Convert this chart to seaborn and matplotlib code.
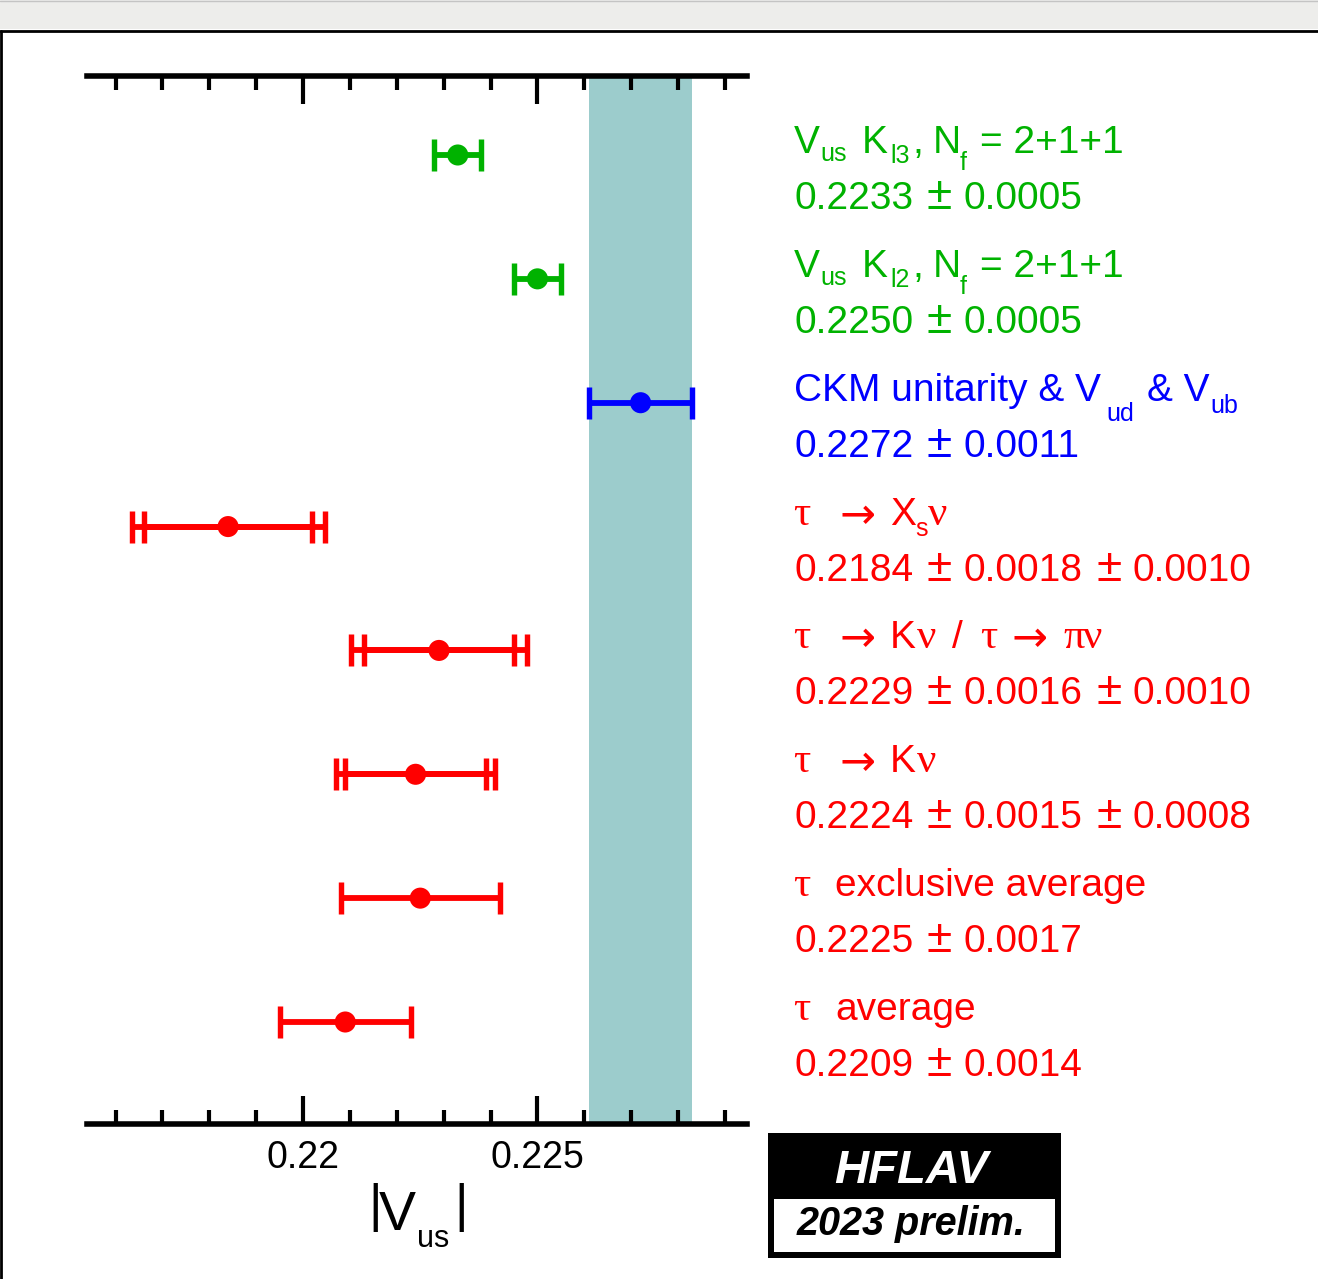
import numpy as np
import pandas as pd
import matplotlib
matplotlib.use("Agg")
import matplotlib.pyplot as plt
import matplotlib.transforms as mtransforms
from matplotlib.patches import Rectangle
from matplotlib.lines import Line2D
from matplotlib.ticker import MultipleLocator
import seaborn as sns

# ---------------- data ----------------
values = [0.2233, 0.2250, 0.2272, 0.2184, 0.2229, 0.2224, 0.2225, 0.2209]
stat_errors = [0.0005, 0.0005, 0.0011, 0.0018, 0.0016, 0.0015, 0.0017, 0.0014]
syst_errors = [0.0, 0.0, 0.0, 0.0010, 0.0010, 0.0008, 0.0, 0.0]
groups = ["lattice", "lattice", "unitarity", "tau", "tau", "tau", "tau", "tau"]
# first label line as (kind, text) tokens: n = normal, s = subscript, g = greek, a = arrow
label_tokens = [
    [("n", "V"), ("s", "us"), ("n", "K"), ("s", "l3"), ("n", ","), ("n", "N"), ("s", "f"), ("n", "= 2+1+1")],
    [("n", "V"), ("s", "us"), ("n", "K"), ("s", "l2"), ("n", ","), ("n", "N"), ("s", "f"), ("n", "= 2+1+1")],
    [("n", "CKM unitarity & V"), ("s", "ud"), ("n", "& V"), ("s", "ub")],
    [("g", "\u03c4"), ("a", "\u2192"), ("n", "X"), ("s", "s"), ("g", "\u03bd")],
    [("g", "\u03c4"), ("a", "\u2192"), ("n", "K"), ("g", "\u03bd"), ("n", "/"), ("g", "\u03c4"),
     ("a", "\u2192"), ("g", "\u03c0"), ("g", "\u03bd")],
    [("g", "\u03c4"), ("a", "\u2192"), ("n", "K"), ("g", "\u03bd")],
    [("g", "\u03c4"), ("n", "exclusive average")],
    [("g", "\u03c4"), ("n", "average")],
]
band_value = 0.2272
band_error = 0.0011
x_major_ticks = [0.22, 0.225]
x_tick_labels = ["0.22", "0.225"]
x_range = (0.21538, 0.22947)
palette = {"lattice": "#00b200", "unitarity": "#0000ff", "tau": "#ff0000"}
band_color = "#9ccccc"

# ---------------- layout (pixel positions of text pieces) ----------------
token_layout = [
    [(794, 0), (820, 8.5), (862, 0), (890, 10.5), (912, 0), (933, 0), (960, 17), (980, 0)],
    [(794, 0), (820, 8.5), (862, 0), (890, 10.5), (912, 0), (933, 0), (960, 17), (980, 0)],
    [(794, 0), (1106, 20), (1147, 0), (1210, 12)],
    [(793, 0), (840, 0), (890, 0), (915, 11), (928, 0)],
    [(793, 0), (840, 0), (890, 0), (917, 0), (952, 0), (980, 0), (1012, 0), (1063, 0), (1083, 0)],
    [(793, 0), (840, 0), (890, 0), (917, 0)],
    [(793, 0), (835, 0)],
    [(793, 0), (835, 0)],
]

sns.set_theme(style="white")
plt.rcParams["font.family"] = ["Liberation Sans", "DejaVu Sans"]
SANS = ["Liberation Sans", "DejaVu Sans"]
SERIF = ["Liberation Serif", "DejaVu Serif"]
ARROW = ["DejaVu Sans"]

W, H = 1318, 1279
fig = plt.figure(figsize=(W / 100, H / 100), dpi=100)
fig.patch.set_facecolor("white")


def fx(x):
    return x / W


def fy(y):
    return 1 - y / H


# viewer frame around the plot
fig.add_artist(Rectangle((0, fy(29)), 1, 29 / H, transform=fig.transFigure,
                         facecolor="#ededeb", edgecolor="none", zorder=0))
fig.add_artist(Line2D([0, 1], [fy(0.6), fy(0.6)], transform=fig.transFigure,
                      color="#c4c4c4", lw=1.0))
fig.add_artist(Line2D([0, 1], [fy(31), fy(31)], transform=fig.transFigure,
                      color="black", lw=2.0))
fig.add_artist(Line2D([fx(1), fx(1)], [fy(31), 0], transform=fig.transFigure,
                      color="black", lw=2.0))

ax = fig.add_axes([fx(86.5), fy(1124), (747 - 86.5) / W, (1124 - 76) / H])
ax.set_facecolor("white")

n = len(values)
rows = np.arange(n)
df = pd.DataFrame({"value": values, "row": rows, "group": groups,
                   "stat": stat_errors, "syst": syst_errors})
df["total"] = np.sqrt(df["stat"] ** 2 + df["syst"] ** 2)

ax.axvspan(band_value - band_error, band_value + band_error, color=band_color, lw=0, zorder=0)

for _, r in df.iterrows():
    c = palette[r["group"]]
    ax.errorbar(r["value"], r["row"], xerr=r["total"], fmt="none", ecolor=c,
                elinewidth=4.2, capsize=11.2, capthick=3.9, zorder=3)
    if r["syst"] > 0:
        ax.errorbar(r["value"], r["row"], xerr=r["stat"], fmt="none", ecolor=c,
                    elinewidth=4.2, capsize=11.2, capthick=3.9, zorder=3)

sns.scatterplot(data=df, x="value", y="row", hue="group", palette=palette, s=230,
                linewidth=0, legend=False, ax=ax, zorder=4)

ax.set_xlim(*x_range)
ax.set_ylim(7.8235, -0.6378)
ax.set_xlabel("")
ax.set_ylabel("")
ax.set_yticks([])
ax.set_xticks(x_major_ticks, labels=x_tick_labels)
ax.xaxis.set_minor_locator(MultipleLocator(0.001))
for side in ("left", "right"):
    ax.spines[side].set_visible(False)
for side in ("top", "bottom"):
    ax.spines[side].set_visible(True)
    ax.spines[side].set_linewidth(4.0)
    ax.spines[side].set_color("black")
ax.tick_params(axis="x", which="both", direction="in", top=True, bottom=True,
               labeltop=False, labelbottom=True, color="black", width=3.0,
               labelsize=27, pad=11.4, labelcolor="black")
ax.tick_params(axis="x", which="major", length=20.5)
ax.tick_params(axis="x", which="minor", length=10.4)
for lab in ax.get_xticklabels():
    lab.set_family(SANS)

# ---------------- right-hand labels ----------------
row_trans = mtransforms.blended_transform_factory(mtransforms.IdentityTransform(), ax.transData)


def put(text, xpx, row, shift_px, color, size, family):
    tr = mtransforms.offset_copy(row_trans, fig=fig, x=0, y=-shift_px, units="dots")
    ax.text(xpx, row, text, transform=tr, ha="left", va="baseline", color=color,
            fontsize=size, family=family, clip_on=False)


for i in range(n):
    c = palette[groups[i]]
    for (kind, txt), (xp, dy) in zip(label_tokens[i], token_layout[i]):
        if kind == "n":
            put(txt, xp, i, -2 + dy, c, 28, SANS)
        elif kind == "s":
            put(txt, xp, i, -2 + dy, c, 18, SANS)
        elif kind == "a":
            put(txt, xp, i, -2 + dy + 3, c, 31, ARROW)
        else:
            put(txt, xp, i, -2 + dy, c, 31, SERIF)
    # second line: value ± stat (± syst), laid out in fixed-width slots
    parts = [f"{values[i]:.4f}", f"{stat_errors[i]:.4f}"]
    if syst_errors[i] > 0:
        parts.append(f"{syst_errors[i]:.4f}")
    for k, p in enumerate(parts):
        put(p, 794 + 169.5 * k, i, 54, c, 28, SANS)
        if k < len(parts) - 1:
            put("\u00b1", 794 + 169.5 * k + 133, i, 54, c, 33, SANS)

# ---------------- x axis title |V_us| ----------------
fig.text(fx(368), fy(1221), "|", fontsize=37.5, family=SANS, ha="left", va="baseline", color="black")
fig.text(fx(379), fy(1230), "V", fontsize=40, family=SANS, ha="left", va="baseline", color="black")
fig.text(fx(417), fy(1247), "us", fontsize=22, family=SANS, ha="left", va="baseline", color="black")
fig.text(fx(454), fy(1221), "|", fontsize=37.5, family=SANS, ha="left", va="baseline", color="black")

# ---------------- HFLAV logo ----------------
fig.add_artist(Rectangle((fx(768), fy(1258)), (1061 - 768) / W, (1258 - 1133) / H,
                         transform=fig.transFigure, facecolor="black", edgecolor="none"))
fig.add_artist(Rectangle((fx(774), fy(1252)), (1055 - 774) / W, (1252 - 1199) / H,
                         transform=fig.transFigure, facecolor="white", edgecolor="none"))
fig.text(fx(911), fy(1183), "HFLAV", fontsize=34, family=SANS, weight="bold", style="italic",
         color="white", ha="center", va="baseline")
fig.text(fx(911), fy(1235), "2023 prelim.", fontsize=28.5, family=SANS, weight="bold", style="italic",
         color="black", ha="center", va="baseline")

fig.savefig("out.png", dpi=100, facecolor="white")
